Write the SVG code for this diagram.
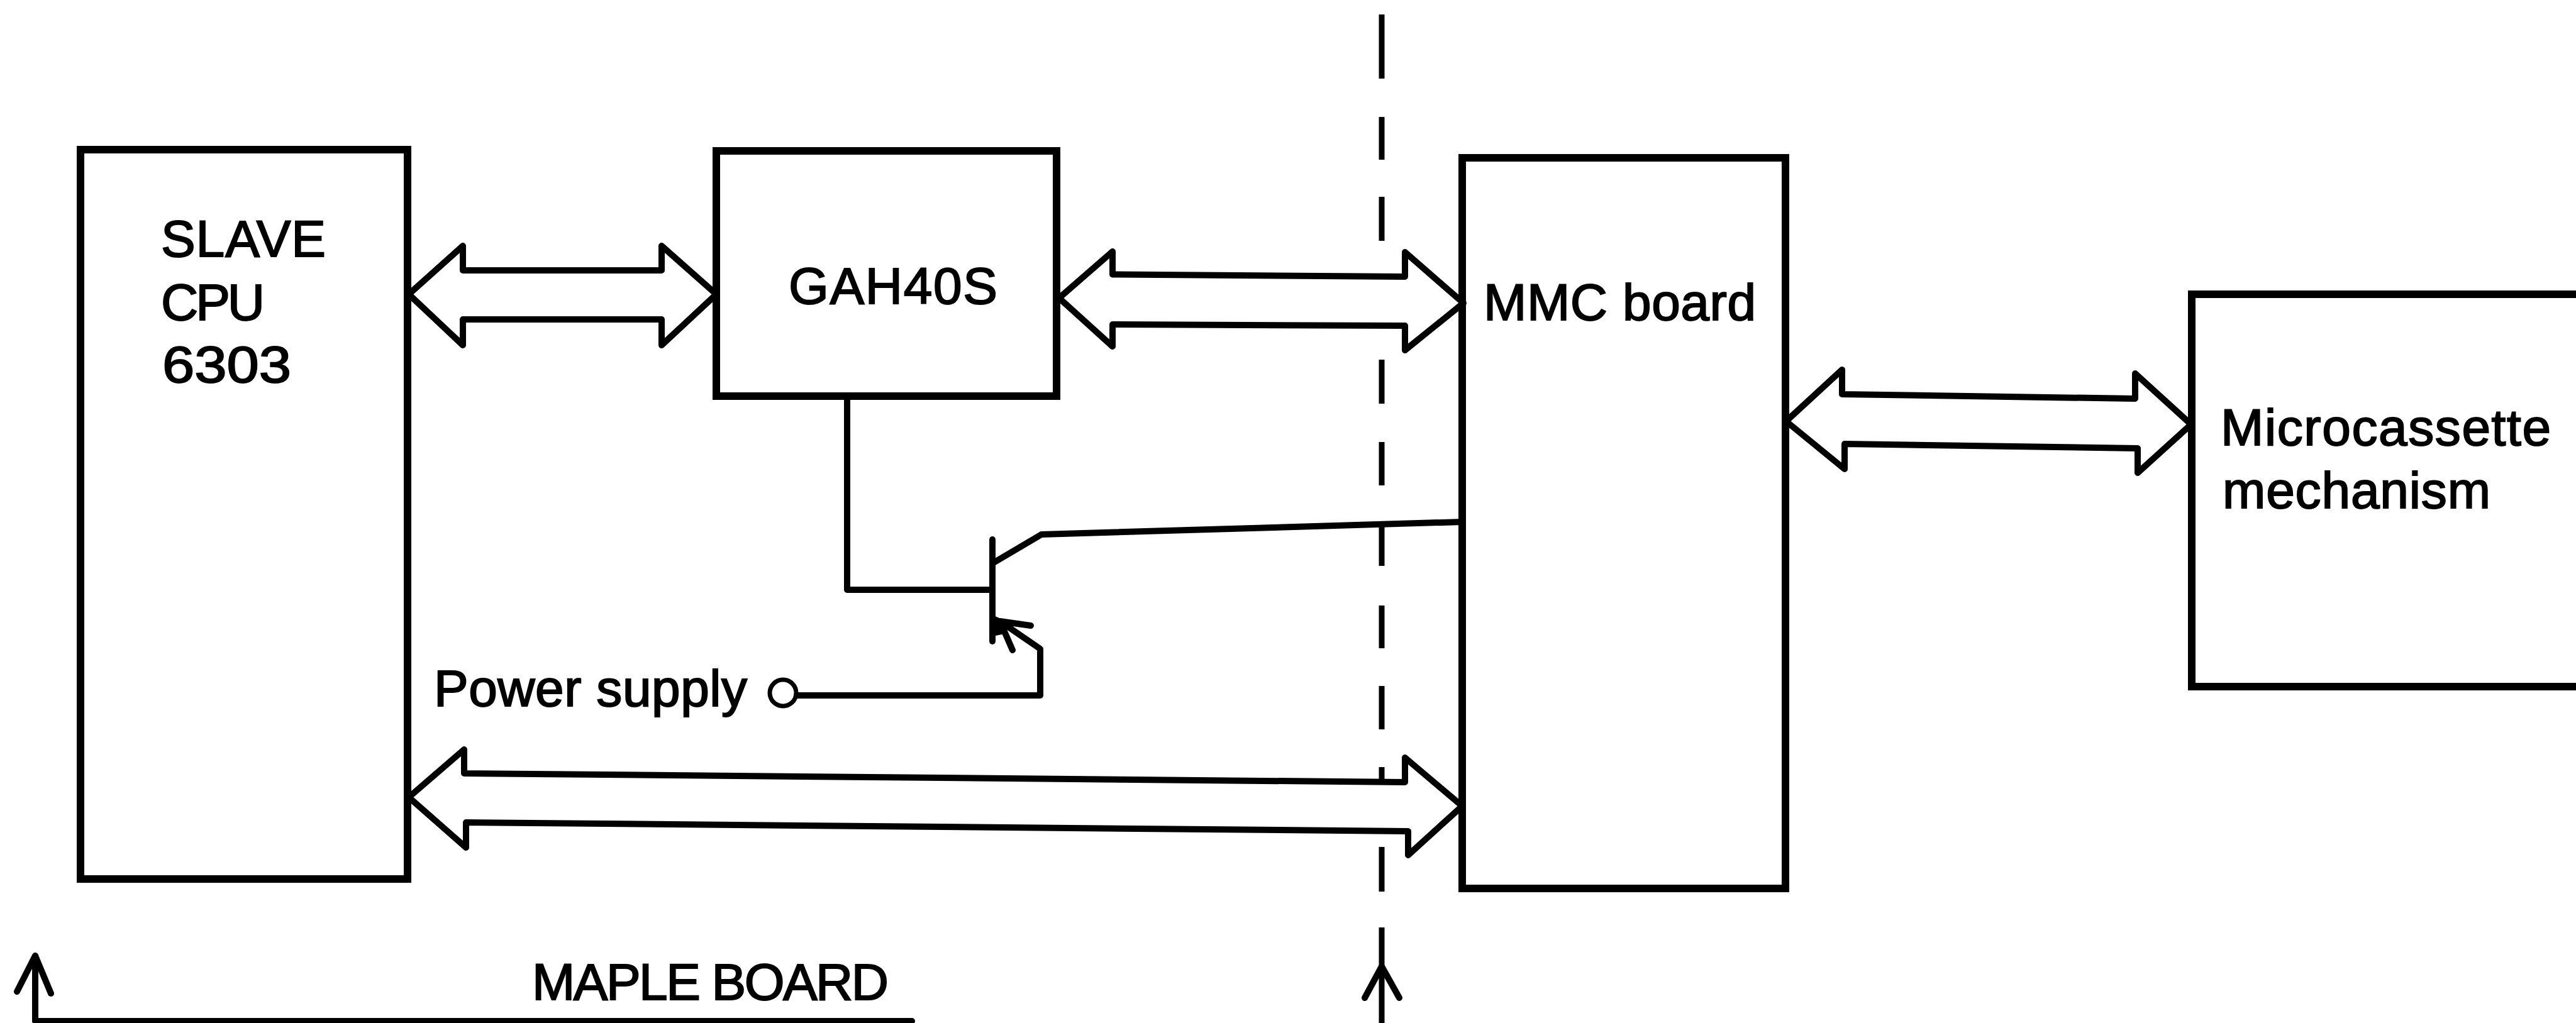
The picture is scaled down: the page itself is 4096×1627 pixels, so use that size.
<svg xmlns="http://www.w3.org/2000/svg" width="4096" height="1627" viewBox="0 0 4096 1627">
<style>
.box{fill:#fff;stroke:#000;stroke-width:12}
.ln{fill:none;stroke:#000;stroke-width:10;stroke-linejoin:round;stroke-linecap:round}
.bus{fill:#fff;stroke:#000;stroke-width:10;stroke-linejoin:round}
.dash{fill:none;stroke:#000;stroke-width:9}
text{font-family:"Liberation Sans",Arial,sans-serif;font-size:82px;fill:#000;stroke:#000;stroke-width:2}
</style>
<rect width="4096" height="1627" fill="#fff"/>
<g id="dashed-boundary">
<path class="dash" d="M2197 23V125M2197 186V254M2197 313V383M2197 572V642M2197 703V772M2197 832V900M2197 963V1031M2197 1091V1160M2197 1220V1244M2197 1347V1418M2197 1475V1627"/>
</g>
<g id="slave-cpu"><rect class="box" x="128" y="238" width="520" height="1160"/>
<text x="256" y="408" textLength="262">SLAVE</text><text x="256" y="509" textLength="165">CPU</text><text x="258" y="608" textLength="205" lengthAdjust="spacingAndGlyphs">6303</text></g>
<g id="gah40s"><rect class="box" x="1139" y="240" width="541" height="390"/><text x="1254" y="483" textLength="332">GAH40S</text></g>
<g id="mmc-board"><rect class="box" x="2325" y="251" width="514" height="1162"/><text x="2359" y="509" textLength="433">MMC board</text></g>
<g id="microcassette"><path class="box" d="M4110 468H3485V1092H4110"/><text x="3531" y="708" textLength="525">Microcassette</text><text x="3534" y="808" textLength="426">mechanism</text></g>
<g id="power-supply"><text x="690" y="1123" textLength="498">Power supply</text><circle cx="1245" cy="1102" r="21" fill="none" stroke="#000" stroke-width="7"/></g>
<g id="maple-board"><text x="846" y="1590" textLength="567">MAPLE BOARD</text>
<path class="ln" d="M27 1577L56 1520L81 1580M56 1520V1624H1450"/><path class="ln" d="M2170 1587L2197 1537L2225 1587"/></g>
<g id="connectors">
<path class="bus" d="M650 468L736 391V430H1052V391L1139 468L1052 549V508H736V549Z"/>
<path class="bus" d="M1684 474L1769 400V436.500L2234 440V401L2327 482L2234 557V518L1769 516V551Z"/>
<path class="bus" d="M2840 670L2929 588V627L3395 634V594L3484 675L3399 752V713L2933 706V746Z"/>
<path class="bus" d="M650 1268L738 1192V1230L2234 1244V1205L2325 1282L2239 1360V1322L741 1308V1348Z"/>
<path class="ln" d="M1347 630V938H1578"/>
<path class="ln" d="M1578 858V1020"/>
<path class="ln" d="M1578 896L1656 850L2325 830"/>
<path class="ln" d="M1590 988L1639 995M1590 988L1610 1034M1590 988L1654 1032V1106H1267"/>
<polygon points="1578,978 1600,988 1598,1008 1578,1012" fill="#000"/>
</g>
</svg>
